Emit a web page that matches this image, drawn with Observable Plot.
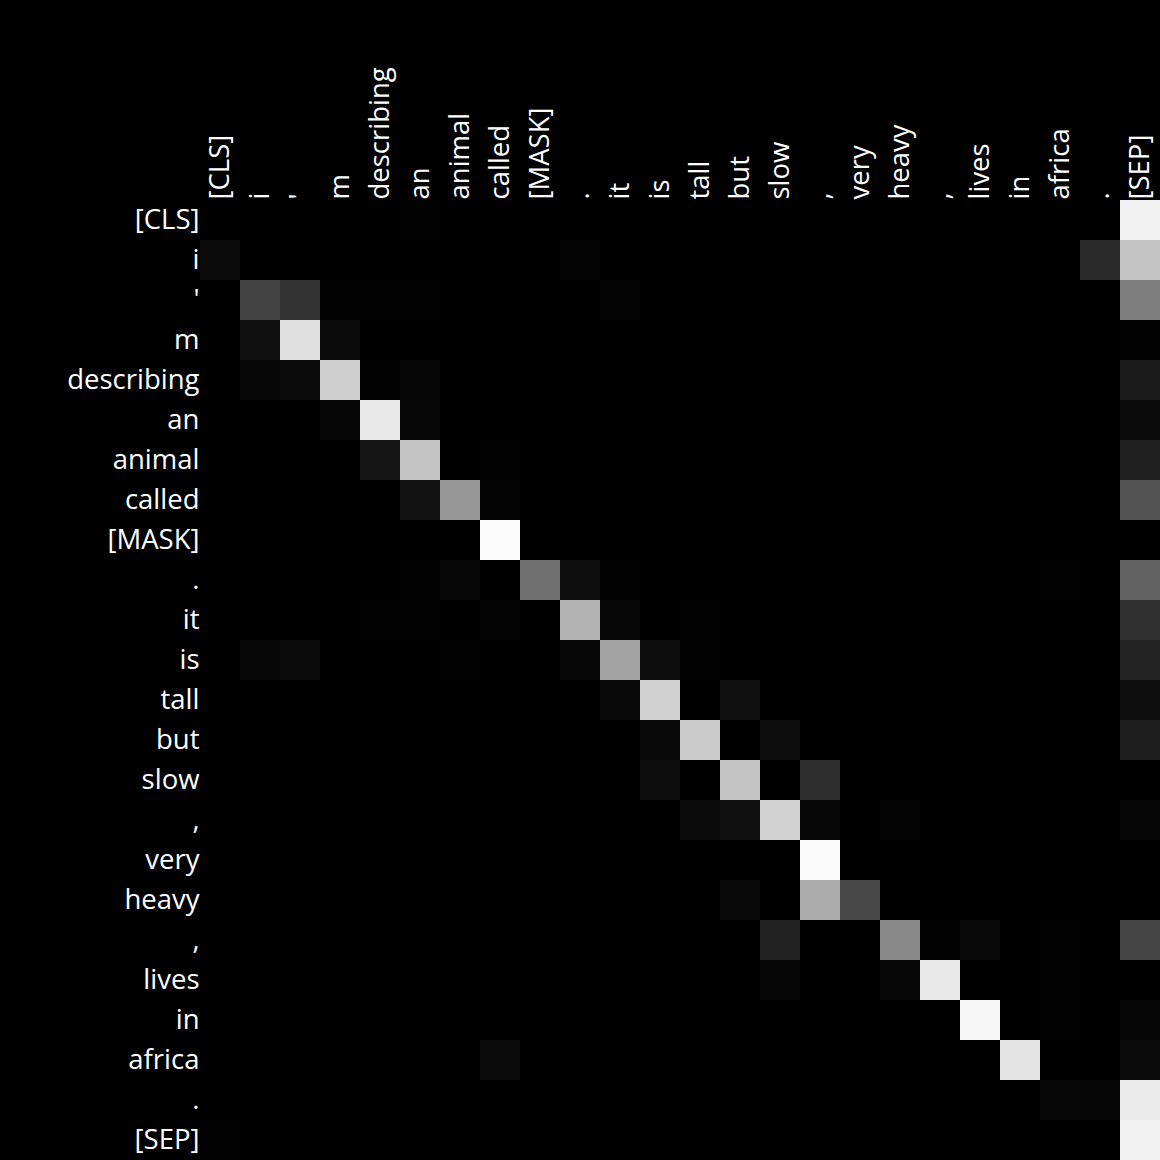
<!DOCTYPE html>
<html>
<head>
<meta charset="utf-8">
<script src="https://cdn.jsdelivr.net/npm/d3@7"></script>
<script src="https://cdn.jsdelivr.net/npm/@observablehq/plot@0.6"></script>
<style>
  html, body { margin: 0; padding: 0; background: #000; }
  #chart svg { display: block; }
</style>
</head>
<body>
<div id="chart"></div>
<script>
// Tokens (rows = queries, columns = keys)
const tokens = ["[CLS]", "i", "'", "m", "describing", "an", "animal", "called", "[MASK]", ".", "it", "is", "tall", "but", "slow", ",", "very", "heavy", ",", "lives", "in", "africa", ".", "[SEP]"];

// Attention weights, one row per query token
const attention = [
  /* [CLS]      */ [0,0,0,0,0,0.01,0,0,0,0,0,0,0,0,0,0,0,0,0,0,0,0,0,0.949],
  /* i          */ [0.04,0,0,0,0,0,0,0,0,0.016,0,0,0,0,0,0,0,0,0,0,0,0,0.165,0.773],
  /* '          */ [0,0.259,0.2,0.012,0.008,0.008,0,0,0,0,0.016,0,0,0,0,0,0,0,0,0,0,0,0,0.498],
  /* m          */ [0,0.059,0.878,0.043,0,0,0,0,0,0,0,0,0,0,0,0,0,0,0,0,0,0,0,0.012],
  /* describing */ [0,0.027,0.043,0.804,0.012,0.02,0,0,0,0,0,0,0,0,0,0,0,0,0,0,0,0,0,0.098],
  /* an         */ [0,0,0,0.02,0.91,0.027,0,0,0,0,0,0,0,0,0,0,0,0,0,0,0,0,0,0.043],
  /* animal     */ [0,0,0.004,0,0.086,0.769,0,0.012,0,0,0,0,0,0,0,0,0,0,0,0,0,0,0,0.125],
  /* called     */ [0,0,0,0,0,0.071,0.588,0.016,0,0,0,0,0,0,0,0,0,0,0,0,0,0,0,0.322],
  /* [MASK]     */ [0,0,0,0,0,0,0,0.988,0,0,0,0,0,0,0,0,0,0,0,0,0,0,0,0.004],
  /* .          */ [0,0,0,0,0.004,0.012,0.031,0,0.443,0.055,0.012,0,0.004,0,0,0,0,0,0,0,0,0.008,0,0.384],
  /* it         */ [0,0,0,0,0.008,0.008,0,0.016,0,0.702,0.027,0,0.012,0,0,0,0,0,0,0,0,0.004,0,0.184],
  /* is         */ [0,0.031,0.039,0,0,0,0.008,0,0,0.027,0.639,0.047,0.012,0,0,0,0,0,0,0,0,0.004,0,0.137],
  /* tall       */ [0,0,0,0,0,0,0,0,0,0.004,0.035,0.816,0,0.063,0,0,0,0,0,0,0,0,0,0.055],
  /* but        */ [0,0,0,0,0,0,0,0,0,0,0,0.035,0.796,0,0.047,0,0,0,0,0,0,0,0,0.118],
  /* slow       */ [0,0,0,0,0,0,0,0,0,0,0,0.051,0,0.765,0,0.176,0.004,0,0,0,0,0,0,0],
  /* ,          */ [0,0,0,0,0,0,0,0,0,0,0,0,0.043,0.059,0.827,0.027,0,0.016,0,0,0,0,0,0.02],
  /* very       */ [0,0,0,0,0,0,0,0,0,0,0,0,0,0,0,0.984,0,0,0,0,0,0,0,0],
  /* heavy      */ [0,0,0,0,0,0,0,0,0,0,0,0,0,0.035,0,0.675,0.282,0,0,0,0,0,0,0],
  /* ,          */ [0,0,0,0,0,0,0,0,0,0,0,0,0,0,0.129,0,0,0.529,0.012,0.035,0,0.012,0,0.267],
  /* lives      */ [0,0,0,0,0,0,0,0,0,0,0.004,0,0,0,0.02,0,0,0.027,0.91,0,0,0.012,0,0.004],
  /* in         */ [0,0,0,0,0,0,0,0,0,0,0,0,0,0,0,0,0,0,0,0.961,0,0.008,0,0.02],
  /* africa     */ [0,0,0,0,0,0,0,0.039,0,0,0,0,0,0,0,0,0,0,0,0,0.894,0,0,0.039],
  /* .          */ [0,0,0,0,0,0,0,0,0.004,0,0,0,0,0,0,0,0,0,0,0,0,0.031,0.024,0.918],
  /* [SEP]      */ [0.008,0,0,0,0,0,0,0,0,0,0,0,0,0,0,0,0,0,0,0,0,0,0,0.941]
];

const idx = d3.range(tokens.length);
const cells = attention.flatMap((row, i) => row.map((v, j) => ({row: i, col: j, v})));
const label = (i) => tokens[i];

const chart = Plot.plot({
  width: 1160,
  height: 1160,
  marginLeft: 200,
  marginTop: 200,
  marginRight: 0,
  marginBottom: 0,
  style: {background: "#000", color: "#fff", fontFamily: "'Open Sans', sans-serif"},
  x: {type: "band", domain: idx, padding: 0, axis: null, label: null},
  y: {type: "band", domain: idx, padding: 0, axis: null, label: null},
  color: {type: "linear", domain: [0, 1], range: ["#000000", "#ffffff"], interpolate: "rgb", clamp: true},
  marks: [
    Plot.cell(cells, {x: "col", y: "row", fill: "v", inset: 0, shapeRendering: "crispEdges"}),
    Plot.axisX({anchor: "top", label: null, tickFormat: label, tickRotate: -90, tickSize: 0, tickPadding: 1, fontSize: 27.5, fill: "#fff"}),
    Plot.axisY({anchor: "left", label: null, tickFormat: label, tickSize: 0, tickPadding: 1, fontSize: 27.5, fill: "#fff"})
  ]
});
document.getElementById("chart").appendChild(chart);
</script>
</body>
</html>
